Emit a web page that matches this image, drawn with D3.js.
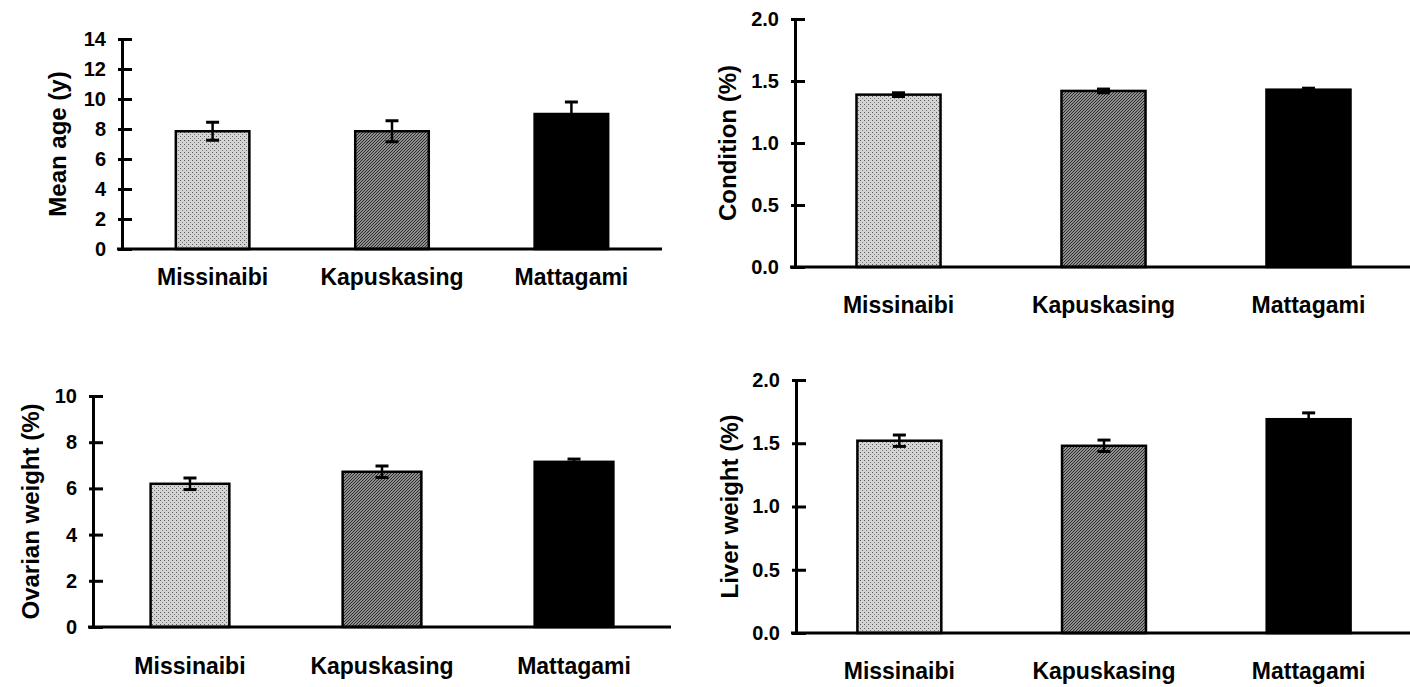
<!DOCTYPE html>
<html>
<head>
<meta charset="utf-8">
<script src="https://cdn.jsdelivr.net/npm/d3@7"></script>
<style>
  body { margin: 0; background: #fff; }
  svg { display: block; }
  text { font-family: "Liberation Sans", Arial, sans-serif; font-weight: bold; fill: #000; }
</style>
</head>
<body>
<div id="chart"></div>
<script>
const categories = ["Missinaibi", "Kapuskasing", "Mattagami"];

const ageMean = [7.85, 7.85, 9.0];
const ageErr = [0.6, 0.7, 0.8];
const ageTicks = [0, 2, 4, 6, 8, 10, 12, 14];

const conditionMean = [1.39, 1.42, 1.43];
const conditionErr = [0.015, 0.015, 0.012];
const conditionTicks = [0, 0.5, 1.0, 1.5, 2.0];

const ovarianMean = [6.2, 6.72, 7.15];
const ovarianErr = [0.25, 0.25, 0.12];
const ovarianTicks = [0, 2, 4, 6, 8, 10];

const liverMean = [1.52, 1.48, 1.69];
const liverErr = [0.045, 0.045, 0.05];
const liverTicks = [0, 0.5, 1.0, 1.5, 2.0];

const svg = d3.select("#chart")
  .append("svg")
  .attr("width", 1410)
  .attr("height", 687);

// bar fills: light stipple, medium hatch, black
const defs = svg.append("defs");
const light = defs.append("pattern")
  .attr("id", "light").attr("patternUnits", "userSpaceOnUse")
  .attr("width", 4).attr("height", 4);
light.append("rect").attr("width", 4).attr("height", 4).attr("fill", "#d4d4d4");
light.append("rect").attr("x", 0).attr("y", 0).attr("width", 1).attr("height", 1).attr("fill", "#555");
light.append("rect").attr("x", 2).attr("y", 2).attr("width", 1).attr("height", 1).attr("fill", "#777");

const mid = defs.append("pattern")
  .attr("id", "mid").attr("patternUnits", "userSpaceOnUse")
  .attr("width", 3).attr("height", 3);
mid.append("rect").attr("width", 3).attr("height", 3).attr("fill", "#8e8e8e");
mid.append("path").attr("d", "M0,3L3,0").attr("stroke", "#2e2e2e").attr("stroke-width", 1);

const fills = ["url(#light)", "url(#mid)", "#000"];

const panels = [
  { mean: ageMean, err: ageErr, ticks: ageTicks, max: 14, fmt: d3.format("d"),
    title: "Mean age (y)", x0: 122, x1: 662, yBase: 249, yTop: 39, titleX: 58, labelY: 285 },
  { mean: conditionMean, err: conditionErr, ticks: conditionTicks, max: 2, fmt: d3.format(".1f"),
    title: "Condition (%)", x0: 795, x1: 1412, yBase: 267, yTop: 19, titleX: 728, labelY: 313 },
  { mean: ovarianMean, err: ovarianErr, ticks: ovarianTicks, max: 10, fmt: d3.format("d"),
    title: "Ovarian weight (%)", x0: 93, x1: 671, yBase: 627, yTop: 396, titleX: 31, labelY: 674 },
  { mean: liverMean, err: liverErr, ticks: liverTicks, max: 2, fmt: d3.format(".1f"),
    title: "Liver weight (%)", x0: 796, x1: 1412, yBase: 633, yTop: 380, titleX: 730, labelY: 679 }
];

panels.forEach((p) => {
  const data = categories.map((c, i) => ({ label: c, value: p.mean[i], err: p.err[i] }));
  const g = svg.append("g");

  const x = d3.scaleBand()
    .domain(categories)
    .range([p.x0, p.x1])
    .paddingInner(0.59)
    .paddingOuter(0.3);

  const y = d3.scaleLinear()
    .domain([0, p.max])
    .range([p.yBase, p.yTop]);

  // bars
  g.selectAll(".bar")
    .data(data)
    .enter()
    .append("rect")
    .attr("class", "bar")
    .attr("x", (d) => x(d.label))
    .attr("width", x.bandwidth())
    .attr("y", (d) => y(d.value))
    .attr("height", (d) => p.yBase - y(d.value))
    .attr("fill", (d, i) => fills[i])
    .attr("stroke", "#000")
    .attr("stroke-width", 2.5);

  // error bars
  const cx = (d) => x(d.label) + x.bandwidth() / 2;
  const eb = g.selectAll(".err")
    .data(data)
    .enter()
    .append("g")
    .attr("class", "err")
    .attr("stroke", "#000")
    .attr("stroke-width", 2.5);
  eb.append("line")
    .attr("x1", cx).attr("x2", cx)
    .attr("y1", (d) => y(d.value + d.err))
    .attr("y2", (d) => y(d.value - d.err));
  eb.append("line")
    .attr("x1", (d) => cx(d) - 6.5).attr("x2", (d) => cx(d) + 6.5)
    .attr("y1", (d) => y(d.value + d.err)).attr("y2", (d) => y(d.value + d.err))
    .attr("stroke-width", 3);
  eb.append("line")
    .attr("x1", (d) => cx(d) - 6.5).attr("x2", (d) => cx(d) + 6.5)
    .attr("y1", (d) => y(d.value - d.err)).attr("y2", (d) => y(d.value - d.err))
    .attr("stroke-width", 3);

  // y axis, ticks cross the line
  const yAxis = g.append("g")
    .attr("transform", `translate(${p.x0}, 0)`)
    .call(d3.axisLeft(y).tickValues(p.ticks).tickFormat(p.fmt)
      .tickSizeInner(-10).tickSizeOuter(0).tickPadding(16));
  yAxis.select(".domain").attr("stroke-width", 3);
  yAxis.selectAll(".tick line").attr("x1", -4).attr("stroke-width", 3);
  yAxis.selectAll(".tick text")
    .attr("font-size", "20px")
    .attr("font-family", "Liberation Sans, Arial, sans-serif")
    .attr("font-weight", "bold")
    .attr("fill", "#000");

  // x baseline
  g.append("line")
    .attr("x1", p.x0 - 5).attr("x2", p.x1)
    .attr("y1", p.yBase).attr("y2", p.yBase)
    .attr("stroke", "#000")
    .attr("stroke-width", 3);

  // category labels
  g.selectAll(".cat")
    .data(data)
    .enter()
    .append("text")
    .attr("class", "cat")
    .attr("x", cx)
    .attr("y", p.labelY)
    .attr("text-anchor", "middle")
    .attr("font-size", "23px")
    .text((d) => d.label);

  // y title
  g.append("text")
    .attr("transform", `translate(${p.titleX}, ${(p.yBase + p.yTop) / 2}) rotate(-90)`)
    .attr("text-anchor", "middle")
    .attr("dy", "0.35em")
    .attr("font-size", "24px")
    .text(p.title);
});
</script>
</body>
</html>
